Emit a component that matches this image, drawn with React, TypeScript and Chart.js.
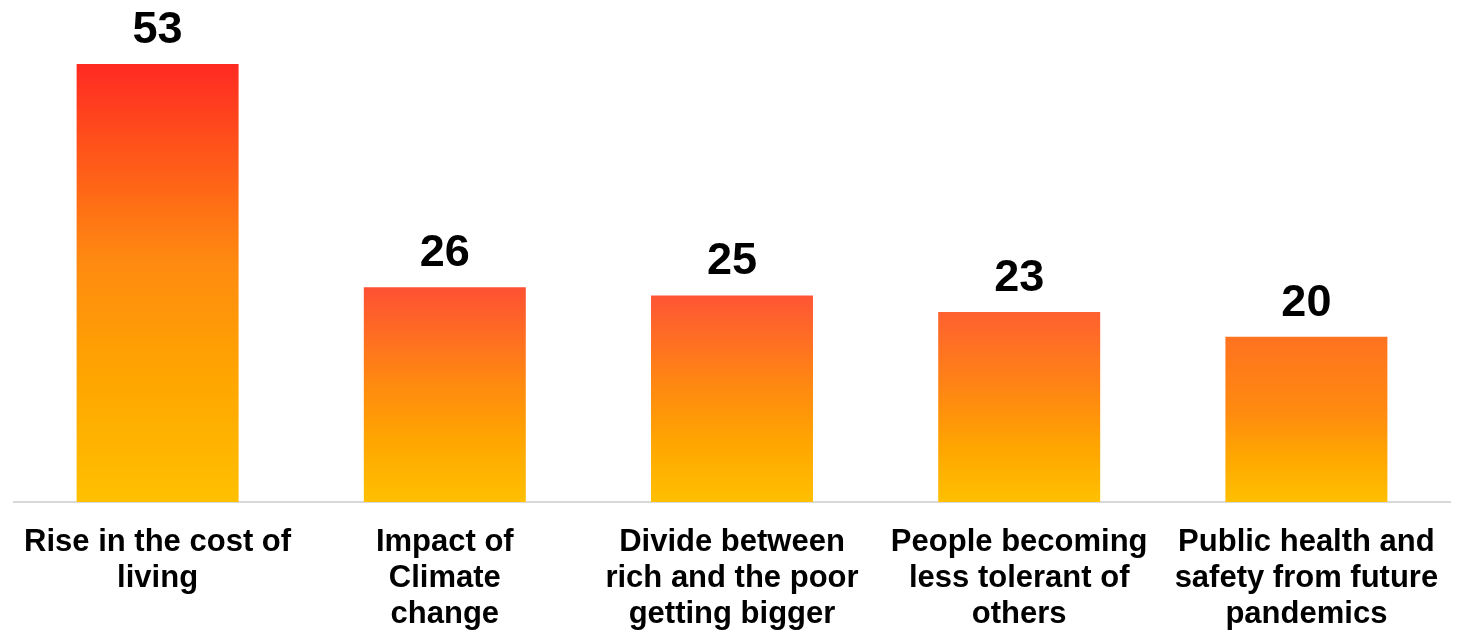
import React, { useEffect, useRef } from "react";
import { Chart, registerables } from "chart.js";

Chart.register(...registerables);

const categories: string[][] = [
  ["Rise in the cost of", "living"],
  ["Impact of", "Climate", "change"],
  ["Divide between", "rich and the poor", "getting bigger"],
  ["People becoming", "less tolerant of", "others"],
  ["Public health and", "safety from future", "pandemics"],
];
const values: number[] = [53, 26, 25, 23, 20];
const barTopColors: string[] = ["#FF2A22", "#FF5034", "#FF5535", "#FF6030", "#FF7220"];

const FONT = "'Liberation Sans', Arial, Helvetica, sans-serif";

const valueLabelPlugin = {
  id: "valueLabels",
  afterDatasetsDraw(chart: any) {
    const { ctx } = chart;
    const meta = chart.getDatasetMeta(0);
    ctx.save();
    ctx.fillStyle = "#000000";
    ctx.font = `bold 45px ${FONT}`;
    ctx.textAlign = "center";
    ctx.textBaseline = "alphabetic";
    meta.data.forEach((bar: any, i: number) => {
      ctx.fillText(String(values[i]), bar.x, bar.y - 21);
    });
    ctx.restore();
  },
};

export default function App() {
  const canvasRef = useRef<HTMLCanvasElement | null>(null);

  useEffect(() => {
    document.body.style.margin = "0";
    const canvas = canvasRef.current;
    if (!canvas) return;
    const chart = new Chart(canvas, {
      type: "bar",
      data: {
        labels: categories,
        datasets: [
          {
            data: values,
            backgroundColor: (c: any) => {
              const ch = c.chart;
              const y = ch.scales?.y;
              if (!y || c.dataIndex === undefined) return "#FFA000";
              const v = values[c.dataIndex];
              const top = y.getPixelForValue(v);
              const bottom = y.getPixelForValue(0);
              if (!isFinite(top) || !isFinite(bottom) || top === bottom) return "#FFA000";
              const g = ch.ctx.createLinearGradient(0, top, 0, bottom);
              g.addColorStop(0, barTopColors[c.dataIndex]);
              g.addColorStop(0.45, "#FF8A10");
              g.addColorStop(0.72, "#FFA600");
              g.addColorStop(1, "#FFC000");
              return g;
            },
            borderWidth: 0,
            barPercentage: 1,
            categoryPercentage: 0.564,
          },
        ],
      },
      options: {
        animation: false,
        responsive: true,
        maintainAspectRatio: false,
        layout: { padding: { top: 64, left: 14, right: 15, bottom: -14 } },
        plugins: {
          legend: { display: false },
          tooltip: { enabled: false },
          title: { display: false },
        },
        scales: {
          x: {
            grid: { display: false },
            border: { display: true, color: "#D9D9D9", width: 2 },
            ticks: {
              color: "#000000",
              font: { family: FONT, size: 31, weight: "bold", lineHeight: 36 / 31 },
              maxRotation: 0,
              minRotation: 0,
              autoSkip: false,
              padding: 14,
            },
          },
          y: {
            display: false,
            min: 0,
            max: 53,
          },
        },
      },
      plugins: [valueLabelPlugin],
    });
    return () => chart.destroy();
  }, []);

  return (
    <div style={{ position: "fixed", left: 0, top: 0, width: 1465, height: 632, background: "#ffffff" }}>
      <canvas ref={canvasRef} />
    </div>
  );
}
